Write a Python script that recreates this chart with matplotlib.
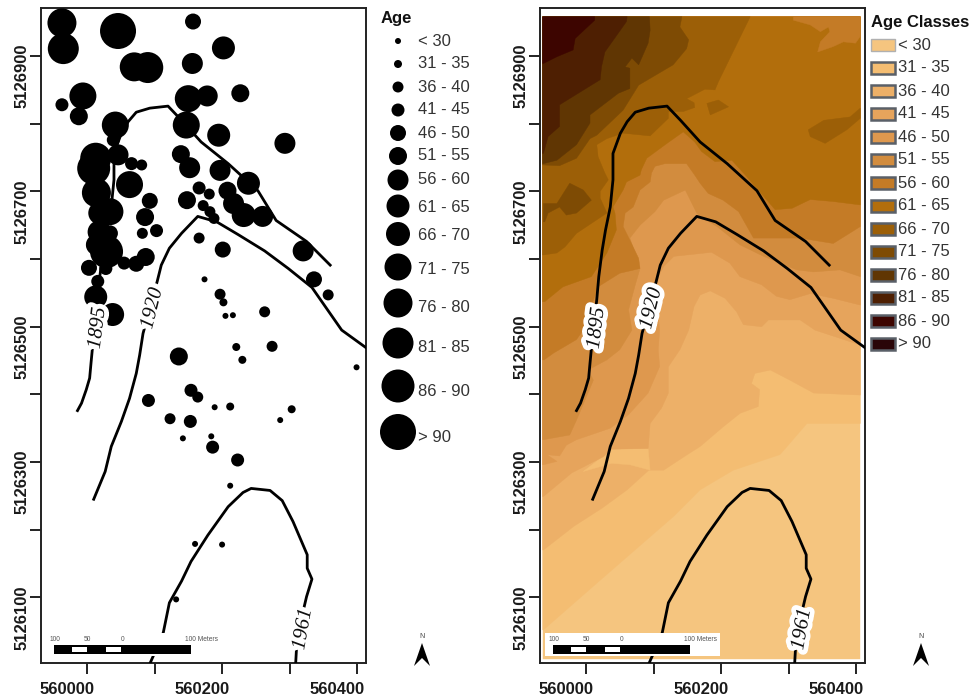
import matplotlib
matplotlib.use('Agg')
import matplotlib.pyplot as plt
import matplotlib.patheffects as pe
from matplotlib.patches import Rectangle, Polygon
from matplotlib.transforms import ScaledTranslation

plt.rcParams['font.family'] = ['Liberation Sans', 'DejaVu Sans']

# all map values are metres east of 560000 and north of 5126000
EAST0 = 560000
NORTH0 = 5126000

# tree plots: position and age class (index into class_labels)
tree_east = [-37, 46, 157, -35, 202, 156, 70, 90, -6, -37, -12, 150, 178, 227, 42, 147, 195, 293, 39, 139,
             152, 46, 13, 10, 81, 66, 63, 197, 239, 166, 181, 93, 14, 148, 208, 217, 232, 260, 172, 182,
             188, 86, 34, 19, 82, 103, 18, 34, 166, 201, 29, 14, 7, 87, 73, 55, 320, 3, 28, 16,
             336, 13, 174, 197, 202, 357, 263, 38, 205, 216, 136, 221, 274, 230, 399, 154, 164, 91, 189, 212,
             303, 123, 153, 286, 142, 184, 186, 223, 212, 160, 200, 132]
tree_north = [949, 937, 951, 911, 912, 889, 884, 883, 841, 828, 811, 837, 841, 845, 798, 798, 783, 771, 776, 755,
              735, 754, 749, 734, 739, 741, 710, 731, 712, 705, 696, 686, 698, 687, 701, 682, 665, 663, 679, 670,
              660, 662, 670, 668, 638, 642, 640, 638, 631, 614, 611, 621, 621, 603, 593, 594, 612, 587, 586, 567,
              570, 544, 570, 548, 536, 547, 522, 518, 516, 517, 456, 470, 471, 451, 440, 406, 396, 391, 381, 382,
              378, 364, 360, 362, 335, 338, 322, 303, 265, 179, 178, 97]
tree_class = [10, 13, 4, 11, 7, 6, 10, 11, 9, 3, 5, 9, 6, 5, 9, 9, 7, 6, 3, 5,
              6, 6, 11, 12, 2, 3, 9, 6, 7, 3, 2, 4, 10, 5, 5, 6, 8, 6, 2, 2,
              2, 5, 9, 7, 2, 3, 7, 4, 2, 4, 12, 6, 2, 5, 4, 3, 6, 4, 3, 3,
              4, 7, 0, 2, 1, 2, 2, 7, 0, 0, 5, 1, 2, 1, 0, 3, 2, 3, 0, 1,
              1, 2, 3, 0, 0, 0, 3, 3, 0, 0, 0, 0]

class_labels = ['< 30', '31 - 35', '36 - 40', '41 - 45', '46 - 50', '51 - 55', '56 - 60',
                '61 - 65', '66 - 70', '71 - 75', '76 - 80', '81 - 85', '86 - 90', '> 90']
class_colors = ['#F5C57F', '#F4BD72', '#EDB068', '#E6A45C', '#DE984E', '#D28C3E', '#C47B26',
                '#B26E0C', '#9C5F07', '#7E4B04', '#603603', '#4E1F02', '#3D0500', '#2A0508']

# treeline positions
line_1895 = [(-14, 376), (-8, 387), (-1, 407), (4, 424), (6, 446), (8, 467), (16, 540), (19, 574), (24, 613),
             (29, 643), (36, 677), (40, 717), (40, 756), (51, 786), (61, 803), (73, 817), (93, 823), (120, 826),
             (140, 805), (169, 773), (209, 741), (253, 701), (280, 657), (325, 626), (360, 591)]
line_1920 = [(10, 245), (27, 286), (36, 323), (51, 360), (63, 394), (73, 431), (78, 458), (83, 490), (104, 567),
             (110, 591), (122, 616), (140, 638), (164, 663), (192, 655), (224, 636), (263, 612), (298, 586),
             (333, 558), (377, 495), (413, 469)]
line_1961 = [(94, 4), (98, 13), (113, 48), (122, 92), (140, 124), (154, 153), (179, 192), (209, 234), (231, 255),
             (243, 261), (271, 258), (289, 243), (305, 212), (326, 163), (326, 143), (333, 127), (325, 101),
             (321, 84), (310, 22), (309, 4)]

# interpolated age surface, oldest-at-least zones, painted light to dark
zone_base = [(-64, 9), (406, 9), (406, 958), (-64, 958)]
zone_31 = [(-63, 52), (16, 121), (130, 220), (169, 259), (218, 288), (287, 311), (295, 320), (327, 357), (357, 357),
           (406, 357), (406, 958), (-64, 958), (-64, 52)]
zone_36 = [(-63, 170), (-18, 205), (24, 232), (61, 259), (93, 288), (115, 288), (150, 311), (169, 323), (203, 352),
           (228, 372), (255, 382), (257, 407), (245, 416), (250, 431), (273, 436), (302, 421), (337, 402), (406, 399),
           (406, 958), (-64, 958), (-64, 170)]
patch_31 = [(-4, 286), (26, 309), (38, 319), (92, 320), (95, 288), (65, 296), (38, 298)]
zone_41 = [(-63, 249), (-21, 284), (26, 308), (38, 319), (92, 320), (95, 357), (112, 380), (122, 402), (122, 441),
           (139, 466), (152, 495), (160, 530), (169, 547), (184, 553), (206, 542), (223, 522), (233, 503), (260, 500),
           (270, 510), (317, 510), (339, 495), (406, 473), (406, 958), (-64, 958), (-64, 249)]
zone_46 = [(-63, 296), (-43, 301), (-58, 311), (-39, 309), (-29, 325), (-14, 333), (36, 350), (63, 370), (92, 402),
           (109, 441), (107, 466), (109, 495), (105, 535), (107, 574), (115, 589), (130, 604), (186, 610), (213, 594),
           (228, 574), (260, 562), (282, 545), (302, 540), (332, 549), (366, 542), (406, 532), (406, 958), (-64, 958),
           (-64, 296)]
zone_51 = [(-63, 333), (-24, 340), (-14, 362), (11, 421), (3, 436), (31, 451), (50, 466), (68, 495), (63, 525),
           (73, 562), (80, 586), (65, 631), (80, 650), (102, 670), (115, 687), (147, 702), (164, 668), (169, 663),
           (194, 648), (228, 621), (263, 604), (312, 584), (337, 581), (376, 584), (406, 574), (406, 958), (-64, 958),
           (-64, 333)]
zone_56 = [(-62, 451), (-48, 461), (-14, 481), (-4, 495), (6, 525), (18, 559), (26, 564), (50, 579), (80, 586),
           (78, 601), (65, 628), (55, 648), (58, 668), (70, 677), (80, 702), (95, 714), (97, 727), (102, 737),
           (117, 741), (149, 741), (161, 724), (169, 712), (181, 697), (203, 687), (226, 670), (248, 631), (275, 631),
           (317, 631), (366, 623), (406, 648), (406, 958), (-64, 958), (-64, 451)]
zone_61 = [(-61, 537), (-34, 559), (8, 574), (31, 609), (45, 643), (43, 668), (40, 677), (55, 702), (60, 714),
           (80, 724), (82, 732), (90, 749), (120, 771), (144, 788), (161, 773), (171, 759), (191, 744), (216, 746),
           (236, 724), (255, 702), (280, 673), (305, 675), (332, 688), (366, 685), (406, 680), (406, 958), (-64, 958),
           (-64, 537)]
island_56 = [(307, 958), (307, 953), (332, 946), (347, 936), (359, 943), (361, 936), (347, 921), (343, 906), (366, 914),
             (381, 921), (399, 919), (406, 929), (406, 958)]
zone_66 = [(-63, 606), (-43, 609), (-31, 618), (-14, 638), (31, 668), (21, 690), (21, 700), (33, 717), (28, 727),
           (18, 751), (16, 769), (31, 778), (55, 786), (95, 782), (122, 808), (122, 818), (144, 818), (161, 824),
           (160, 831), (149, 837), (176, 851), (191, 850), (196, 862), (243, 958), (-64, 958), (-64, 606)]
island_66a = [(179, 830), (196, 835), (211, 825), (184, 813)]
island_66b = [(329, 791), (352, 805), (391, 810), (406, 823), (406, 808), (386, 791), (354, 771), (332, 781)]
zone_71 = [(-63, 739), (-39, 738), (-14, 749), (6, 778), (16, 783), (55, 820), (78, 857), (95, 867), (129, 887),
           (149, 911), (152, 924), (139, 943), (142, 958), (-64, 958), (-64, 739)]
patch_71 = [(-63, 682), (-43, 682), (-24, 712), (-4, 702), (8, 687), (-14, 668), (-29, 665), (-39, 677), (-56, 668),
            (-61, 655), (-63, 655)]
zone_76 = [(-63, 741), (-43, 746), (-14, 769), (6, 801), (6, 813), (48, 845), (65, 852), (65, 882), (58, 884), (68, 897),
           (78, 887), (92, 919), (95, 938), (94, 958), (-64, 958), (-64, 741)]
zone_81 = [(-63, 756), (-56, 781), (-39, 796), (-39, 828), (21, 865), (23, 884), (28, 906), (60, 951), (61, 958),
           (-64, 958), (-64, 756)]
zone_86 = [(-63, 889), (-43, 899), (-19, 909), (-16, 926), (13, 953), (13, 958), (-64, 958), (-64, 889)]

# (zone, class index) in paint order
surface = [(zone_base, 0), (zone_31, 1), (zone_36, 2), (patch_31, 1), (zone_41, 3), (zone_46, 4), (zone_51, 5),
           (zone_56, 6), (zone_61, 7), (island_56, 6), (zone_66, 8), (island_66a, 8), (island_66b, 8),
           (zone_71, 9), (patch_71, 9), (zone_76, 10), (zone_81, 11), (zone_86, 12)]

line_labels = ['1895', '1920', '1961']
label_pos = [(16, 498), (97, 527), (320, 53)]
label_rot = [83, 76, 80]

x_ticks = [560000, 560100, 560200, 560300, 560400]
x_labels = ['560000', '', '560200', '', '560400']
y_ticks = [5126100, 5126200, 5126300, 5126400, 5126500, 5126600, 5126700, 5126800, 5126900]
y_labels = ['5126100', '', '5126300', '', '5126500', '', '5126700', '', '5126900']

# circle diameter in pixels for each age class
class_diam = [6, 8, 11, 13, 16, 18, 21, 23, 24, 27, 29, 31, 33, 36]

W, H = 972, 697
fig = plt.figure(figsize=(W / 100, H / 100), dpi=100)


def px_size(d):
    return (d * 0.72) ** 2


def make_map(left_px):
    ax = fig.add_axes([left_px / W, 1 - 663 / H, 325 / W, 655 / H])
    ax.set_xlim(EAST0 - 68, EAST0 + 413)
    ax.set_ylim(NORTH0 + 3, NORTH0 + 971)
    ax.set_xticks(x_ticks)
    ax.set_xticklabels(x_labels, fontsize=12, fontweight='bold', color='#1a1a1a')
    ax.set_yticks(y_ticks)
    ax.set_yticklabels(y_labels, fontsize=12, fontweight='bold', color='#1a1a1a', rotation=90, va='center')
    ax.tick_params(length=8, width=1.4, color='#222222')
    ax.tick_params(axis='x', pad=5.5)
    ax.tick_params(axis='y', pad=0.5)
    for s in ax.spines.values():
        s.set_linewidth(1.4)
        s.set_color('#222222')
    # the labels sit 20 px off their ticks in the original
    for lab in ax.get_xticklabels():
        lab.set_transform(lab.get_transform() + ScaledTranslation(-0.2, 0, fig.dpi_scale_trans))
    for lab in ax.get_yticklabels():
        lab.set_transform(lab.get_transform() + ScaledTranslation(0, -0.2, fig.dpi_scale_trans))
    return ax


def draw_lines(ax):
    for line in [line_1895, line_1920, line_1961]:
        ax.plot([EAST0 + p[0] for p in line], [NORTH0 + p[1] for p in line], color='black', lw=2, zorder=4,
                solid_joinstyle='round')
    for txt, pos, rot in zip(line_labels, label_pos, label_rot):
        ax.text(EAST0 + pos[0], NORTH0 + pos[1], txt, family='Liberation Serif', style='italic', fontsize=15,
                rotation=rot, rotation_mode='anchor', ha='center', va='center', zorder=6, color='#111111',
                path_effects=[pe.withStroke(linewidth=7, foreground='white')])


def draw_scale(ax):
    ax.add_patch(Rectangle((EAST0 - 61, NORTH0 + 14), 260, 33, fc='white', ec='none', zorder=7))
    ax.add_patch(Rectangle((EAST0 - 49, NORTH0 + 17), 203, 13, fc='black', ec='none', zorder=8))
    ax.add_patch(Rectangle((EAST0 - 22, NORTH0 + 19), 22, 8, fc='white', ec='none', zorder=9))
    ax.add_patch(Rectangle((EAST0 + 28, NORTH0 + 19), 23, 8, fc='white', ec='none', zorder=9))
    for e, txt in [(-48, '100'), (1, '50'), (52, '0'), (169, '100 Meters')]:
        ax.text(EAST0 + e, NORTH0 + 37, txt, fontsize=4.8, color='#555555', ha='center', va='center', zorder=9)


# left map, tree ages as circles
ax1 = make_map(41)
draw_lines(ax1)
ax1.scatter([EAST0 + e for e in tree_east], [NORTH0 + n for n in tree_north],
            s=[px_size(class_diam[c]) for c in tree_class], color='black', linewidths=0, zorder=5)
draw_scale(ax1)

# right map, age surface
ax2 = make_map(540)
for zone, k in surface:
    ax2.add_patch(Polygon([(EAST0 + p[0], NORTH0 + p[1]) for p in zone], closed=True, fc=class_colors[k],
                          ec=class_colors[k], lw=0.3, zorder=2))
draw_lines(ax2)
draw_scale(ax2)

# legends and north arrows go on a pixel overlay
lg = fig.add_axes([0, 0, 1, 1])
lg.set_xlim(0, W)
lg.set_ylim(H, 0)
lg.axis('off')
lg.patch.set_alpha(0)

circle_y = [41, 64, 87, 110, 133, 156, 180, 206, 234, 267, 303, 343, 386, 432]
circle_text_y = [41, 64, 87, 110, 133, 156, 180, 207, 236, 270, 307, 348, 392, 438]
lg.text(381, 19, 'Age', fontsize=12, fontweight='bold', va='center', color='#111111')
lg.scatter([398] * len(circle_y), circle_y, s=[px_size(d) for d in class_diam], color='black', linewidths=0)
for y, txt in zip(circle_text_y, class_labels):
    lg.text(418, y, txt, fontsize=12, va='center', color='#333333')

swatch_y = [45, 68, 91, 114, 137, 160, 183, 206, 229, 252, 275, 298, 321, 344]
lg.text(871, 22, 'Age Classes', fontsize=12, fontweight='bold', va='center', color='#111111')
for i, y in enumerate(swatch_y):
    ec, lw = ('#B0B0B0', 1) if i == 0 else ('#5A6068', 1.8)
    lg.add_patch(Rectangle((871, y - 6), 24, 12, fc=class_colors[i], ec=ec, lw=lw))
    lg.text(898, y, class_labels[i], fontsize=12, va='center', color='#333333')

for cx in [422, 921]:
    lg.add_patch(Polygon([(cx, 643), (cx + 8, 666), (cx, 658), (cx - 8, 666)], closed=True, fc='black', ec='none'))
    lg.text(cx, 636, 'N', fontsize=5, ha='center', va='center', color='#444444')

fig.savefig('out.png', dpi=100)
